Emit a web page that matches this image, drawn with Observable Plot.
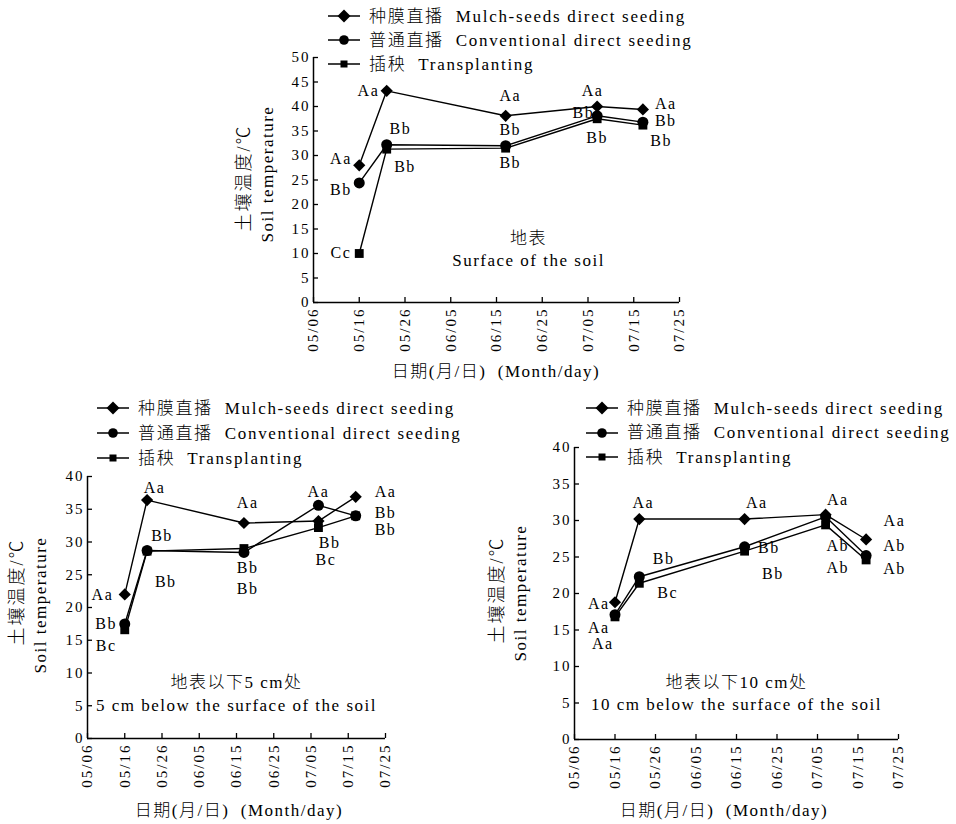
<!DOCTYPE html>
<html>
<head>
<meta charset="utf-8">
<script src="https://cdn.jsdelivr.net/npm/d3@7"></script>
<script src="https://cdn.jsdelivr.net/npm/@observablehq/plot@0.6"></script>
<style>
  body { margin: 0; background: #fff; }
  #root { position: relative; width: 956px; height: 824px; overflow: hidden;
    font-family: "Liberation Serif", "Noto Sans CJK SC", serif; font-weight: 300; color: #000; }
  .abs { position: absolute; white-space: pre; line-height: 1; }
  .center { transform: translate(-50%, -50%); }
  .vert { transform: translate(-50%, -50%) rotate(-90deg); }
  .legend { display: flex; align-items: center; height: 20px; font-size: 17px; letter-spacing: 1.7px; }
  .legend svg { margin-right: 9px; }
  svg.ch { overflow: visible; position: absolute; font-weight: 300; }
  svg.ch text { letter-spacing: 1.5px; }
  svg.ch g[aria-label="x-axis tick label"] text, svg.ch g[aria-label="y-axis tick label"] text { letter-spacing: 2px; }
</style>
</head>
<body>
<div id="root"></div>
<script>
// ---------- data ----------
const xTickLabels = ["05/06", "05/16", "05/26", "06/05", "06/15", "06/25", "07/05", "07/15", "07/25"];
const sampleDates = ["05/16", "05/22", "06/17", "07/07", "07/17"];
const seriesNames = ["种膜直播  Mulch-seeds direct seeding", "普通直播  Conventional direct seeding", "插秧  Transplanting"];
const yTicksSurface = [0, 5, 10, 15, 20, 25, 30, 35, 40, 45, 50];
const yTicksDeep = [0, 5, 10, 15, 20, 25, 30, 35, 40];
const yTitleCN = "土壤温度/℃";
const yTitleEN = "Soil temperature";
const xTitle = "日期(月/日)  (Month/day)";

// Surface of the soil
const surfaceMulch = [28.0, 43.2, 38.1, 40.0, 39.4];
const surfaceConv = [24.4, 32.2, 32.0, 38.1, 36.8];
const surfaceTrans = [10.0, 31.3, 31.5, 37.5, 36.2];
const surfaceLetters = [
  {date: "05/12", value: 29.3, text: "Aa"}, {date: "05/18", value: 43.2, text: "Aa"},
  {date: "05/12", value: 22.9, text: "Bb"}, {date: "05/12", value: 10.2, text: "Cc"},
  {date: "05/25", value: 35.4, text: "Bb"}, {date: "05/26", value: 27.7, text: "Bb"},
  {date: "06/18", value: 42.2, text: "Aa"}, {date: "06/18", value: 35.3, text: "Bb"},
  {date: "06/18", value: 28.5, text: "Bb"}, {date: "07/06", value: 43.1, text: "Aa"},
  {date: "07/04", value: 38.8, text: "Bb"}, {date: "07/07", value: 33.5, text: "Bb"},
  {date: "07/22", value: 40.5, text: "Aa"}, {date: "07/22", value: 37.1, text: "Bb"},
  {date: "07/21", value: 32.9, text: "Bb"}
];
const surfaceNotes = [
  {date: "06/22", value: 13.0, text: "地表"},
  {date: "06/22", value: 8.6, text: "Surface of the soil"}
];

// 5 cm below the surface
const cm5Mulch = [22.0, 36.4, 32.9, 33.2, 36.9];
const cm5Conv = [17.5, 28.7, 28.4, 35.6, 34.0];
const cm5Trans = [16.6, 28.6, 29.0, 32.2, 34.0];
const cm5Letters = [
  {date: "05/10", value: 22.0, text: "Aa"}, {date: "05/24", value: 38.3, text: "Aa"},
  {date: "05/11", value: 17.5, text: "Bb"}, {date: "05/11", value: 14.2, text: "Bc"},
  {date: "05/26", value: 31.0, text: "Bb"}, {date: "05/27", value: 23.9, text: "Bb"},
  {date: "06/18", value: 36.0, text: "Aa"}, {date: "06/18", value: 26.0, text: "Bb"},
  {date: "06/18", value: 22.9, text: "Bb"}, {date: "07/07", value: 37.6, text: "Aa"},
  {date: "07/10", value: 29.9, text: "Bb"}, {date: "07/09", value: 27.2, text: "Bc"},
  {date: "07/25", value: 37.6, text: "Aa"}, {date: "07/25", value: 34.5, text: "Bb"},
  {date: "07/25", value: 31.8, text: "Bb"}
];
const cm5Notes = [
  {date: "06/15", value: 8.6, text: "地表以下5 cm处"},
  {date: "06/15", value: 5.1, text: "5 cm below the surface of the soil"}
];

// 10 cm below the surface
const cm10Mulch = [18.8, 30.2, 30.2, 30.8, 27.4];
const cm10Conv = [17.1, 22.3, 26.4, 30.5, 25.2];
const cm10Trans = [16.8, 21.4, 25.8, 29.4, 24.6];
const cm10Letters = [
  {date: "05/23", value: 32.4, text: "Aa"}, {date: "06/20", value: 32.4, text: "Aa"},
  {date: "07/10", value: 32.8, text: "Aa"}, {date: "07/24", value: 29.9, text: "Aa"},
  {date: "05/12", value: 18.6, text: "Aa"}, {date: "05/12", value: 15.3, text: "Aa"},
  {date: "05/13", value: 13.1, text: "Aa"}, {date: "05/28", value: 24.8, text: "Bb"},
  {date: "05/29", value: 20.1, text: "Bc"}, {date: "06/23", value: 26.2, text: "Bb"},
  {date: "06/24", value: 22.7, text: "Bb"}, {date: "07/10", value: 26.5, text: "Ab"},
  {date: "07/10", value: 23.5, text: "Ab"}, {date: "07/24", value: 26.5, text: "Ab"},
  {date: "07/24", value: 23.4, text: "Ab"}
];
const cm10Notes = [
  {date: "06/15", value: 7.8, text: "地表以下10 cm处"},
  {date: "06/15", value: 4.8, text: "10 cm below the surface of the soil"}
];

// ---------- helpers ----------
const parseMD = s => new Date(Date.UTC(2010, +s.slice(0, 2) - 1, +s.slice(3, 5)));
const xTickDates = xTickLabels.map(parseMD);
const fmt = d => xTickLabels[xTickDates.findIndex(t => +t === +d)];
const root = document.getElementById("root");
const FONT = '"Liberation Serif", "Noto Sans CJK SC", serif';
const symbols = ["diamond2", "circle", "square"];
const radii = [5.5, 5.5, 5];

function addDiv(text, left, top, cls, size, ls) {
  const d = document.createElement("div");
  d.className = "abs " + cls;
  d.textContent = text;
  d.style.left = left + "px";
  d.style.top = top + "px";
  d.style.fontSize = size + "px";
  d.style.letterSpacing = ls + "px";
  root.appendChild(d);
}

function legendMarker(i) {
  const m = i === 0 ? '<path d="M16,0.5L22.5,7L16,13.5L9.5,7Z" fill="#000"/>'
    : i === 1 ? '<circle cx="16" cy="7" r="4.8" fill="#000"/>'
    : '<rect x="12.5" y="3.5" width="7" height="7" fill="#000"/>';
  return `<svg width="32" height="14"><line x1="0" x2="32" y1="7" y2="7" stroke="#000" stroke-width="1.5"/>${m}</svg>`;
}

function addLegend(left, top, gap) {
  seriesNames.forEach((name, i) => {
    const row = document.createElement("div");
    row.className = "abs legend";
    row.style.left = left + "px";
    row.style.top = (top + i * gap - 10) + "px";
    row.innerHTML = legendMarker(i) + "<span></span>";
    row.querySelector("span").textContent = name;
    root.appendChild(row);
  });
}

function chart(cfg) {
  const series = [cfg.mulch, cfg.conv, cfg.trans].map(vals =>
    vals.map((v, i) => ({date: parseMD(sampleDates[i]), value: v})));
  const x0 = parseMD(xTickLabels[0]);
  const plot = Plot.plot({
    className: "ch",
    width: cfg.width, height: cfg.height,
    marginLeft: cfg.ml, marginRight: cfg.mr, marginTop: cfg.mt, marginBottom: cfg.mb,
    style: {fontFamily: FONT, fontSize: "15px", color: "#000", background: "transparent"},
    x: {type: "utc", domain: [x0, parseMD(xTickLabels[xTickLabels.length - 1])]},
    y: {domain: [0, cfg.yTicks[cfg.yTicks.length - 1]]},
    marks: [
      Plot.axisX({ticks: xTickDates, tickFormat: fmt, tickRotate: -90, tickSize: -5, tickPadding: 10, label: null, strokeWidth: 1.3}),
      Plot.axisY({ticks: cfg.yTicks, tickSize: -5, tickPadding: 8, label: null, strokeWidth: 1.3}),
      Plot.ruleY([0], {strokeWidth: 1.5}),
      Plot.ruleX([x0], {strokeWidth: 1.5}),
      ...series.map(s => Plot.line(s, {x: "date", y: "value", stroke: "#000", strokeWidth: 1.4})),
      ...series.map((s, i) => Plot.dot(s, {x: "date", y: "value", symbol: symbols[i], r: radii[i], fill: "#000", stroke: "none"})),
      Plot.text(cfg.letters, {x: d => parseMD(d.date), y: "value", text: "text", fontSize: 16}),
      Plot.text(cfg.notes, {x: d => parseMD(d.date), y: "value", text: "text", fontSize: 17})
    ]
  });
  plot.style.left = cfg.left + "px";
  plot.style.top = cfg.top + "px";
  root.appendChild(plot);
}

// ---------- top chart: surface ----------
addLegend(328, 16, 24);
chart({mulch: surfaceMulch, conv: surfaceConv, trans: surfaceTrans, letters: surfaceLetters, notes: surfaceNotes,
  yTicks: yTicksSurface, left: 0, top: 0, width: 956, height: 390, ml: 313, mr: 277, mt: 57, mb: 88});
addDiv(yTitleCN, 244, 178, "vert", 18, 2);
addDiv(yTitleEN, 267, 174, "vert", 17, 1.5);
addDiv(xTitle, 496, 371, "center", 17, 1.5);

// ---------- bottom-left: 5 cm ----------
addLegend(97, 408, 25);
chart({mulch: cm5Mulch, conv: cm5Conv, trans: cm5Trans, letters: cm5Letters, notes: cm5Notes,
  yTicks: yTicksDeep, left: 0, top: 400, width: 478, height: 424, ml: 87, mr: 93, mt: 76, mb: 86});
addDiv(yTitleCN, 17, 592, "vert", 18, 2);
addDiv(yTitleEN, 40, 605, "vert", 17, 1.5);
addDiv(xTitle, 239, 810, "center", 17, 1.5);

// ---------- bottom-right: 10 cm ----------
addLegend(586, 408, 24.5);
chart({mulch: cm10Mulch, conv: cm10Conv, trans: cm10Trans, letters: cm10Letters, notes: cm10Notes,
  yTicks: yTicksDeep, left: 478, top: 400, width: 478, height: 424, ml: 96, mr: 58, mt: 47, mb: 85});
addDiv(yTitleCN, 497, 590, "vert", 18, 2);
addDiv(yTitleEN, 520, 593, "vert", 17, 1.5);
addDiv(xTitle, 724, 810, "center", 17, 1.5);
</script>
</body>
</html>
